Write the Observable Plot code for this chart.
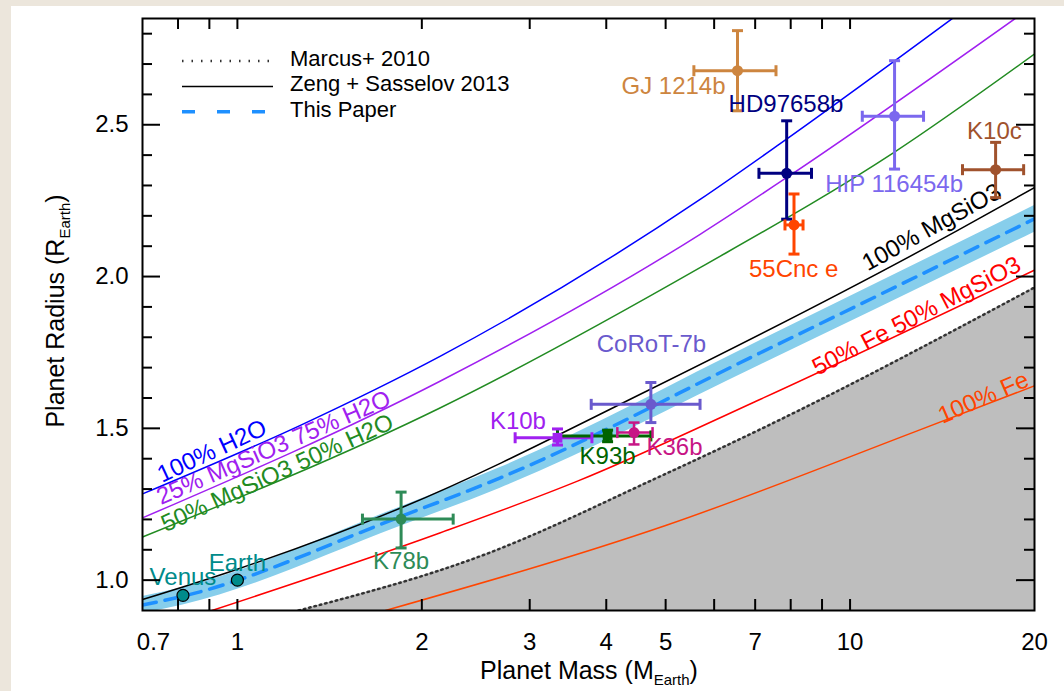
<!DOCTYPE html>
<html><head><meta charset="utf-8">
<script src="https://cdn.jsdelivr.net/npm/d3@7"></script>
<script src="https://cdn.jsdelivr.net/npm/@observablehq/plot@0.6"></script>
<style>
html,body{margin:0;padding:0;width:1064px;height:691px;overflow:hidden;background:#ece6dc;}
#panel{position:absolute;left:11px;top:6px;width:1053px;height:685px;background:#fff;}
#chart{position:absolute;left:0;top:0;}
</style></head><body><div id="panel"></div><div id="chart"></div>
<script>
// ---- model curves (mass in M_Earth, radius in R_Earth) ----
const h2oMass = [0.7, 1.267, 2.145, 5.70, 7.68, 14.69];
const h2oRadius = [1.284, 1.51, 1.738, 2.255, 2.437, 2.85];
const mg25Mass = [0.7, 2.145, 5.70, 7.88, 18.6];
const mg25Radius = [1.205, 1.656, 2.140, 2.326, 2.85];
const mg50Mass = [0.7, 2.145, 5.70, 11.8, 20];
const mg50Radius = [1.142, 1.568, 2.030, 2.409, 2.733];
const rockMass = [0.7, 1.0, 1.86, 4.66, 14.96, 20];
const rockRadius = [0.936, 1.036, 1.24, 1.623, 2.151, 2.293];
const fe50Mass = [0.909, 2.145, 3.59, 7.14, 20];
const fe50Radius = [0.9, 1.156, 1.326, 1.596, 2.021];
const feMass = [1.745, 5.0, 12.84, 20];
const feRadius = [0.9, 1.18, 1.491, 1.640];
const marcusMass = [1.258, 2.5, 4.84, 7.14, 20];
const marcusRadius = [0.9, 1.08, 1.337, 1.497, 1.964];
const paperMass = [0.7, 0.815, 1.85, 2.686, 7.14, 20];
const paperRadius = [0.918, 0.947, 1.21, 1.337, 1.749, 2.19];
const paperLow = [0.890, 0.918, 1.178, 1.303, 1.709, 2.146];
const paperHigh = [0.946, 0.976, 1.242, 1.371, 1.789, 2.234];

// ---- curve labels ----
const curveLabels = ["100% H2O", "25% MgSiO3 75% H2O", "50% MgSiO3 50% H2O", "100% MgSiO3", "50% Fe 50% MgSiO3", "100% Fe"];
const curveLabelMass = [0.909, 1.146, 1.162, 13.59, 12.84, 16.5];
const curveLabelRadius = [1.425, 1.436, 1.353, 2.162, 1.870, 1.601];
const curveLabelAngle = [-25, -23.5, -24.5, -29, -27.3, -23.6];
const curveColors = ["#0000ff", "#a020f0", "#228b22", "#000000", "#ff0000", "#ff4500"];

// ---- planets ----
const planetNames = ["GJ 1214b", "HD97658b", "55Cnc e", "HIP 116454b", "K10c", "CoRoT-7b", "K10b", "K93b", "K36b", "K78b"];
const planetMass = [6.55, 7.88, 8.10, 11.82, 17.28, 4.73, 3.33, 4.02, 4.44, 1.85];
const planetMassLow = [5.56, 7.10, 7.83, 10.47, 15.26, 3.78, 2.84, 3.33, 4.17, 1.60];
const planetMassHigh = [7.57, 8.65, 8.38, 13.18, 19.20, 5.69, 3.79, 4.73, 4.76, 2.25];
const planetRadius = [2.678, 2.340, 2.170, 2.528, 2.352, 1.579, 1.469, 1.475, 1.486, 1.201];
const planetRadiusLow = [2.546, 2.189, 2.074, 2.354, 2.260, 1.519, 1.445, 1.456, 1.447, 1.106];
const planetRadiusHigh = [2.810, 2.513, 2.272, 2.711, 2.442, 1.651, 1.498, 1.494, 1.519, 1.290];
const planetColors = ["#cd853f", "#000080", "#ff4500", "#7b68ee", "#a0522d", "#6a5acd", "#a020f0", "#006400", "#c71585", "#2e8b57"];
const planetMarkers = ["circle", "circle", "circle", "circle", "circle", "circle", "square", "square", "circle", "circle"];
const planetLabelMass = [5.15, 7.86, 8.09, 11.8, 17.2, 4.74, 2.87, 4.02, 5.17, 1.85];
const planetLabelRadius = [2.625, 2.568, 2.024, 2.305, 2.480, 1.777, 1.524, 1.409, 1.436, 1.062];

// ---- solar system ----
const solarNames = ["Venus", "Earth"];
const solarMass = [0.815, 1.0];
const solarRadius = [0.95, 1.0];
const solarLabelMass = [0.815, 1.0];
const solarLabelRadius = [1.008, 1.054];

// ---- axes ----
const xDomain = [0.7, 20];
const yDomain = [0.9, 2.85];
const xTickLabels = [1, 2, 3, 4, 5, 7, 10, 20];
const xFirstLabel = [0.7];
const xTickMarks = [0.8, 0.9, 1, 2, 3, 4, 5, 6, 7, 8, 9, 10];
const yTickLabels = [1.0, 1.5, 2.0, 2.5];
const yMinorTicks = [1.1, 1.2, 1.3, 1.4, 1.6, 1.7, 1.8, 1.9, 2.1, 2.2, 2.3, 2.4, 2.6, 2.7, 2.8];

// ---- legend ----
const legendLabels = ["Marcus+ 2010", "Zeng + Sasselov 2013", "This Paper"];

const zip = (ms, rs) => ms.map((m, i) => ({m, r: rs[i]}));
const h2o = zip(h2oMass, h2oRadius);
const mg25 = zip(mg25Mass, mg25Radius);
const mg50 = zip(mg50Mass, mg50Radius);
const rock = zip(rockMass, rockRadius);
const fe50 = zip(fe50Mass, fe50Radius);
const fe = zip(feMass, feRadius);
const marcus = zip(marcusMass, marcusRadius);
const paper = paperMass.map((m, i) => ({m, r: paperRadius[i], lo: paperLow[i], hi: paperHigh[i]}));
const curveLab = curveLabels.map((t, i) => ({t, m: curveLabelMass[i], r: curveLabelRadius[i], a: curveLabelAngle[i], c: curveColors[i]}));
const planets = planetNames.map((name, i) => ({
  name, m: planetMass[i], mlo: planetMassLow[i], mhi: planetMassHigh[i],
  r: planetRadius[i], rlo: planetRadiusLow[i], rhi: planetRadiusHigh[i],
  c: planetColors[i], sym: planetMarkers[i], lm: planetLabelMass[i], lr: planetLabelRadius[i],
  w: name === "K36b" ? 2.5 : 3
}));
const solar = solarNames.map((name, i) => ({name, m: solarMass[i], r: solarRadius[i], lm: solarLabelMass[i], lr: solarLabelRadius[i]}));

const capH = {draw(ctx, size) { const r = Math.sqrt(size / Math.PI); ctx.moveTo(-r, 0); ctx.lineTo(r, 0); }};
const capV = {draw(ctx, size) { const r = Math.sqrt(size / Math.PI); ctx.moveTo(0, -r); ctx.lineTo(0, r); }};

const W = 1064, H = 691, mL = 142, mR = 30, mT = 18, mB = 81;
const iW = W - mL - mR, iH = H - mT - mB;
const font = "Liberation Sans, Arial, Helvetica, sans-serif";

const curveLine = (data, color) => Plot.line(data, {x: "m", y: "r", stroke: color, strokeWidth: 1.5, curve: "monotone-x", clip: true});

const chart = Plot.plot({
  width: W, height: H, marginLeft: mL, marginRight: mR, marginTop: mT, marginBottom: mB,
  style: {fontFamily: font, fontSize: "24px", background: "transparent", color: "black"},
  x: {type: "log", domain: xDomain, axis: null},
  y: {type: "linear", domain: yDomain, axis: null},
  color: {type: "identity"},
  marks: [
    Plot.areaY(marcus, {x: "m", y1: yDomain[0], y2: "r", fill: "#bebebe", curve: "monotone-x", clip: true}),
    Plot.areaY(paper, {x: "m", y1: "lo", y2: "hi", fill: "#87ceeb", curve: "monotone-x", clip: true}),
    curveLine(h2o, curveColors[0]),
    curveLine(mg25, curveColors[1]),
    curveLine(mg50, curveColors[2]),
    curveLine(rock, curveColors[3]),
    curveLine(fe50, curveColors[4]),
    curveLine(fe, curveColors[5]),
    Plot.line(marcus, {x: "m", y: "r", stroke: "#333", strokeWidth: 2.5, strokeDasharray: "1.5,4", curve: "monotone-x", clip: true}),
    Plot.line(paper, {x: "m", y: "r", stroke: "#1e90ff", strokeWidth: 3.5, strokeDasharray: "14,9", curve: "monotone-x", clip: true}),
    // curve labels
    Plot.text(curveLab, {x: "m", y: "r", text: "t", rotate: "a", fill: "c", fontSize: 24}),
    // error bars
    Plot.ruleX(planets, {x: "m", y1: "rlo", y2: "rhi", stroke: "c", strokeWidth: "w"}),
    Plot.ruleY(planets, {y: "r", x1: "mlo", x2: "mhi", stroke: "c", strokeWidth: "w"}),
    Plot.dot(planets, {x: "m", y: "rlo", symbol: capH, r: 5.5, stroke: "c", strokeWidth: "w", fill: "none"}),
    Plot.dot(planets, {x: "m", y: "rhi", symbol: capH, r: 5.5, stroke: "c", strokeWidth: "w", fill: "none"}),
    Plot.dot(planets, {x: "mlo", y: "r", symbol: capV, r: 5.5, stroke: "c", strokeWidth: "w", fill: "none"}),
    Plot.dot(planets, {x: "mhi", y: "r", symbol: capV, r: 5.5, stroke: "c", strokeWidth: "w", fill: "none"}),
    Plot.dot(planets.filter(d => d.sym === "circle"), {x: "m", y: "r", fill: "c", r: 5.5, symbol: "circle"}),
    Plot.dot(planets.filter(d => d.sym === "square"), {x: "m", y: "r", fill: "c", r: 5.5, symbol: "square"}),
    Plot.text(planets, {x: "lm", y: "lr", text: "name", fill: "c", fontSize: 24}),
    // solar system
    Plot.dot(solar, {x: "m", y: "r", r: 6, fill: "#008b8b", stroke: "black", strokeWidth: 1.2}),
    Plot.text(solar, {x: "lm", y: "lr", text: "name", fill: "#008b8b", fontSize: 24}),
    // ticks inside frame
    Plot.tickX(xTickMarks, {x: d => d, insetTop: iH - 11, stroke: "black", strokeWidth: 2}),
    Plot.tickX(xTickMarks, {x: d => d, insetBottom: iH - 11, stroke: "black", strokeWidth: 2}),
    Plot.tickY(yMinorTicks, {y: d => d, insetRight: iW - 10, stroke: "black", strokeWidth: 2}),
    Plot.tickY(yMinorTicks, {y: d => d, insetLeft: iW - 10, stroke: "black", strokeWidth: 2}),
    Plot.tickY(yTickLabels, {y: d => d, insetRight: iW - 18, stroke: "black", strokeWidth: 2}),
    Plot.tickY(yTickLabels, {y: d => d, insetLeft: iW - 18, stroke: "black", strokeWidth: 2}),
    Plot.axisX({ticks: xTickLabels, tickSize: 0, tickPadding: 22, tickFormat: d => String(d), fontSize: 24, label: null}),
    Plot.axisX({ticks: xFirstLabel, tickSize: 0, tickPadding: 22, tickFormat: d => String(d), fontSize: 24, label: null, dx: 11}),
    Plot.axisY({ticks: yTickLabels, tickSize: 0, tickPadding: 14, tickFormat: d3.format(".1f"), fontSize: 24, label: null}),
    Plot.frame({stroke: "black", strokeWidth: 2})
  ]
});

document.getElementById("chart").appendChild(chart);
const svg = d3.select(chart);

// axis titles
const xt = svg.append("text").attr("x", 589).attr("y", 679).attr("text-anchor", "middle")
  .attr("font-size", 25).attr("font-family", font).attr("fill", "black");
xt.append("tspan").text("Planet Mass (M");
xt.append("tspan").attr("font-size", 15).attr("dy", 6).text("Earth");
xt.append("tspan").attr("dy", -6).text(")");

const yt = svg.append("text").attr("transform", "translate(64,311) rotate(-90)").attr("text-anchor", "middle")
  .attr("font-size", 25).attr("font-family", font).attr("fill", "black");
yt.append("tspan").text("Planet Radius (R");
yt.append("tspan").attr("font-size", 15).attr("dy", 6).text("Earth");
yt.append("tspan").attr("dy", -6).text(")");

// legend
const legendStyles = [
  {stroke: "#333", width: 2.5, dash: "1.5,8"},
  {stroke: "black", width: 1.5, dash: null},
  {stroke: "#1e90ff", width: 3.5, dash: "13,22"}
];
const lg = svg.append("g");
legendLabels.forEach((label, i) => {
  const s = legendStyles[i];
  const y = 61 + i * 25.4;
  lg.append("line").attr("x1", 182).attr("x2", 273).attr("y1", y).attr("y2", y)
    .attr("stroke", s.stroke).attr("stroke-width", s.width).attr("stroke-dasharray", s.dash);
  lg.append("text").attr("x", 290).attr("y", y + 5).attr("text-anchor", "start")
    .attr("font-size", 22).attr("font-family", font).attr("fill", "black").text(label);
});
</script></body></html>
